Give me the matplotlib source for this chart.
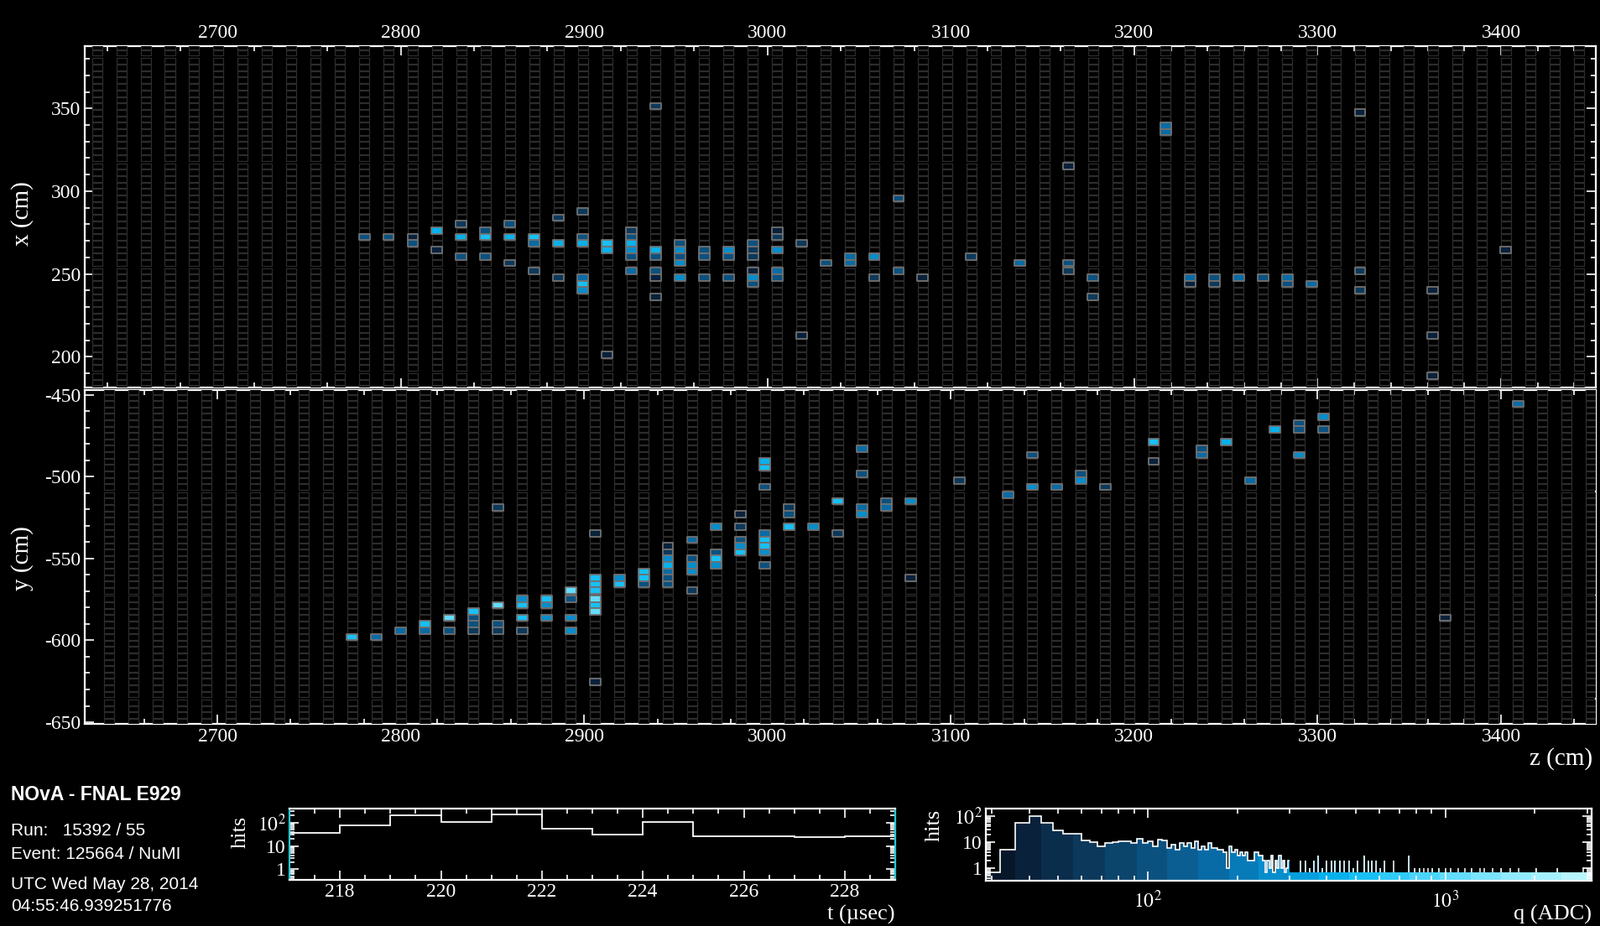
import numpy as np
import matplotlib
matplotlib.use("Agg")
import matplotlib.pyplot as plt
from matplotlib.collections import PatchCollection
from matplotlib.patches import Rectangle
from matplotlib.colors import LinearSegmentedColormap, LogNorm
import matplotlib.ticker as mticker

plt.rcParams['font.family'] = ['Liberation Serif', 'DejaVu Serif']
plt.rcParams['axes.unicode_minus'] = False
plt.rcParams['mathtext.fontset'] = 'stix'

# charge levels used for the hit colours (ADC)
D, DM, M, MB, B, C, L, V = 45, 60, 100, 160, 260, 380, 600, 1100

# ---- x view hits: plane number, x (cm), charge
x_plane = [11, 12, 13, 13, 14, 14, 15, 15, 15, 16, 16, 16, 17, 17, 17,
           18, 18, 18, 19, 19, 19, 20, 20, 20, 20, 20, 20, 21, 21, 21,
           22, 22, 22, 22, 22, 22, 23, 23, 23, 23, 23, 23,
           24, 24, 24, 24, 24, 25, 25, 25, 26, 26, 26,
           27, 27, 27, 27, 27, 27, 28, 28, 28, 28, 28, 29, 29, 30, 31, 31,
           32, 32, 33, 33, 34, 36, 38, 40, 40, 40, 41, 41, 44, 44, 45, 45,
           46, 46, 47, 48, 49, 49, 50, 52, 52, 52, 55, 55, 55, 58]
x_pos = [273.5, 272.3, 273.5, 269.6, 276.5, 264.5, 281.8, 273.5, 261.8,
         276.5, 272.3, 260.6, 281.8, 273.5, 257.8, 272.3, 268.3, 252.2,
         285.6, 269.8, 249.5, 288.0, 272.3, 268.3, 248.2, 244.3, 240.4,
         269.8, 265.9, 202.4, 276.5, 272.3, 268.3, 264.5, 260.6, 252.2,
         353.0, 265.9, 261.8, 253.4, 249.5, 237.5,
         268.3, 264.5, 260.6, 256.8, 248.2, 265.9, 261.8, 249.5,
         264.5, 260.6, 248.2,
         269.8, 265.9, 261.8, 253.4, 249.5, 245.6, 276.5, 272.3, 264.5,
         252.2, 248.2, 269.8, 214.0, 256.8, 261.8, 257.8,
         260.6, 248.2, 297.5, 253.4, 248.2, 260.6, 256.8, 315.5, 256.8,
         252.2, 249.5, 237.5, 340.3, 336.1, 249.5, 245.6,
         248.2, 244.3, 249.5, 248.2, 249.5, 245.6, 244.3, 347.8, 252.2,
         240.4, 241.4, 214.0, 189.7, 264.5]
x_q = [M, M, D, M, C, D, DM, C, M, M, L, M, M, C, DM, L, MB, DM, DM, C, DM,
       DM, M, C, MB, L, B, L, C, D, DM, M, C, B, M, MB, DM, C, M, M, D, D,
       M, B, M, B, B, M, M, M, B, M, M,
       M, DM, DM, D, B, M, D, DM, B, MB, M, DM, D, M, MB, MB,
       B, DM, M, M, D, DM, MB, D, M, DM, M, DM, MB, MB, MB, D,
       M, DM, MB, M, MB, M, MB, D, DM, DM, D, D, D, D]

# ---- y view hits: plane number, y (cm), charge
y_plane = [11, 12, 13, 14, 14, 15, 15, 16, 16, 16, 16, 17, 17, 17, 17,
           18, 18, 18, 18, 19, 19, 19, 20, 20, 20, 20,
           21, 21, 21, 21, 21, 21, 21, 21, 22, 22, 23, 23, 23,
           24, 24, 24, 24, 24, 24, 24, 25, 25, 25, 25, 25, 26, 26, 26, 26,
           27, 27, 27, 27, 27, 28, 28, 28, 28, 28, 28, 28, 28,
           29, 29, 29, 30, 31, 31, 32, 32, 32, 32, 33, 33, 34, 34,
           36, 38, 39, 39, 40, 41, 41, 42, 44, 44, 46, 46, 47, 48, 49,
           50, 50, 50, 51, 51, 56, 59]
y_pos = [-598.6, -597.2, -594.5, -589.4, -593.3, -586.5, -594.2,
         -581.4, -585.3, -589.4, -593.3, -518.7, -578.6, -590.4, -594.2,
         -573.3, -577.4, -585.1, -593.0, -574.5, -578.6, -586.7,
         -568.7, -573.3, -585.1, -593.0,
         -534.2, -562.4, -566.3, -570.3, -574.4, -578.3, -582.2, -625.9,
         -560.7, -564.6, -558.3, -562.4, -566.3,
         -541.1, -545.0, -548.7, -552.8, -556.9, -560.7, -564.6,
         -538.2, -550.1, -554.0, -558.0, -569.9,
         -528.9, -545.0, -548.7, -552.8,
         -523.0, -530.5, -538.8, -542.6, -546.5,
         -489.7, -493.4, -505.5, -533.5, -537.3, -541.2, -545.3, -553.2,
         -519.0, -523.0, -530.5, -529.3, -514.9, -534.6,
         -481.3, -497.2, -517.5, -521.6, -515.1, -518.7, -513.9, -560.9,
         -500.9, -509.3, -486.6, -506.2, -504.7, -498.4, -502.3, -504.7,
         -477.4, -489.7, -481.6, -485.5, -478.9, -500.9, -470.7,
         -465.9, -470.0, -485.4, -463.2, -470.7, -585.1, -455.5]
y_q = [L, MB, MB, L, MB, V, M, L, M, M, DM, DM, V, M, DM,
       B, L, L, DM, L, B, B, V, M, B, B,
       D, L, L, L, V, L, V, D, B, L, L, L, M,
       D, DM, B, C, MB, M, M, MB, M, B, B, DM, B, M, L, B,
       D, DM, M, B, L, C, L, M, MB, L, L, B, M,
       DM, M, L, B, L, DM, MB, M, MB, B, M, MB, B, D,
       DM, MB, M, B, MB, M, B, DM, L, D, M, MB, C, MB, C,
       M, M, B, B, M, D, MB]

# ---- time histogram (hits per microsecond)
t_edges = [217, 218, 219, 220, 221, 222, 223, 224, 225, 226, 227, 228, 229]
t_counts = [36, 76, 205, 103, 216, 57, 30, 110, 27, 27, 24, 27]

# ---- charge histogram, 4 ADC bins starting at 28 ADC
q_counts_low = [0, 5, 54, 105, 54, 29, 21, 21, 12, 10, 7, 9, 10, 11, 11, 9,
                14, 9, 11, 7, 13, 12, 6, 8, 5, 9, 7, 9, 6, 11, 5, 7, 5, 9,
                6, 6, 5, 5, 4, 1, 7, 4, 5, 3, 4, 3, 4, 2, 2, 2, 4, 4, 3, 3,
                2, 0, 2, 1, 3, 0, 2, 1, 3, 1, 2, 0, 1, 2]
q_high = [327, 338, 349, 361, 374, 386, 399, 413, 427, 441, 456, 472, 488,
          504, 534, 548, 567, 586, 606, 627, 670, 753, 791, 818, 846, 875,
          905, 951, 1000, 1041, 1105, 1162, 1222, 1306, 1350, 1443, 1543,
          1649, 1763, 2015, 2381, 2910]
q_high_n = [2, 2, 1, 2, 3, 1, 2, 2, 2, 2, 2, 2, 1, 2, 3, 2, 2, 2, 1, 2, 2, 3,
            1, 1, 1, 1, 1, 1, 1, 1, 1, 1, 1, 1, 1, 1, 1, 1, 1, 1, 1, 1]

info = ["Run:   15392 / 55", "Event: 125664 / NuMI",
        "UTC Wed May 28, 2014", "04:55:46.939251776"]

# ---- detector geometry
PITCH_Z = 13.245
Z0 = {'x': 2634.4, 'y': 2627.8}
CELL_P = 3.9
MOD_W = 63.4
CELL_W, CELL_H = 5.5, 3.4
HIT_W, HIT_H = 5.9, 3.9
ZLIM = (2627.7, 3451.7)

QMIN, QMAX = 28.6, 3100
QCMAP = LinearSegmentedColormap.from_list(
    'q', ['#07172a', '#0a2440', '#0c3354', '#0c4268', '#0b5280', '#0a6298',
          '#0874b0', '#068ac8', '#05a2e0', '#08b8f2', '#28c8fa', '#48d4fc',
          '#68defd', '#86e8fe', '#a0eeff', '#b8f6ff'], N=20)
QNORM = LogNorm(QMIN, QMAX)


def draw_view(ax, view, mod_edges, planes, pos, q):
    z0 = Z0[view]
    zc = z0 + PITCH_Z * np.arange(0, 64)
    zc = zc[(zc - CELL_W / 2 > ZLIM[0]) & (zc + CELL_W / 2 < ZLIM[1] + 4)]
    centers = (np.asarray(mod_edges)[:, None] + (MOD_W - 16 * CELL_P) / 2
               + CELL_P * (np.arange(16) + 0.5)).ravel()
    cells = [Rectangle((z - CELL_W / 2, c - CELL_H / 2), CELL_W, CELL_H)
             for z in zc for c in centers]
    ax.add_collection(PatchCollection(cells, facecolor='black',
                                      edgecolor='#2c2c2c', lw=0.9, zorder=3))
    hz = z0 + PITCH_Z * np.asarray(planes)
    hc = centers[np.abs(centers[None, :] - np.asarray(pos)[:, None]).argmin(1)]
    hits = [Rectangle((z - HIT_W / 2, c - HIT_H / 2), HIT_W, HIT_H)
            for z, c in zip(hz, hc)]
    pc = PatchCollection(hits, cmap=QCMAP, norm=QNORM, edgecolor='#707070',
                         lw=1.3, zorder=4)
    pc.set_array(np.asarray(q, dtype=float))
    ax.add_collection(pc)


def style(ax):
    ax.set_facecolor('black')
    for s in ax.spines.values():
        s.set_color('white')
        s.set_linewidth(1.6)
        s.set_zorder(2)
    ax.tick_params(which='both', direction='in', colors='white', top=True,
                   right=True, labelsize=17, width=1.2)
    ax.tick_params(which='major', length=8)
    ax.tick_params(which='minor', length=4)


W, H = 1907, 1104
fig = plt.figure(figsize=(W / 100, H / 100), dpi=100, facecolor='black')


def box(x0, y0, x1, y1):
    return [x0 / W, 1 - y1 / H, (x1 - x0) / W, (y1 - y0) / H]


# x view
ax1 = fig.add_axes(box(101, 55, 1902, 462))
style(ax1)
draw_view(ax1, 'x', [127.5, 190.9, 254.3, 317.7, 381.1], x_plane, x_pos, x_q)
ax1.set_xlim(*ZLIM)
ax1.set_ylim(181.5, 387.6)
ax1.xaxis.set_major_locator(mticker.MultipleLocator(100))
ax1.xaxis.set_minor_locator(mticker.MultipleLocator(20))
ax1.yaxis.set_major_locator(mticker.MultipleLocator(50))
ax1.yaxis.set_minor_locator(mticker.MultipleLocator(10))
ax1.tick_params(labeltop=True, labelbottom=False)

# y view
ax2 = fig.add_axes(box(101, 465, 1902, 863))
style(ax2)
draw_view(ax2, 'y', [-698.9, -635.5, -572.1, -508.7, -445.3],
          y_plane, y_pos, y_q)
ax2.set_xlim(*ZLIM)
ax2.set_ylim(-651, -447.1)
ax2.xaxis.set_major_locator(mticker.MultipleLocator(100))
ax2.xaxis.set_minor_locator(mticker.MultipleLocator(20))
ax2.yaxis.set_major_locator(mticker.MultipleLocator(50))
ax2.yaxis.set_minor_locator(mticker.MultipleLocator(10))

fig.text(27 / W, 1 - 255 / H, 'x (cm)', color='white', fontsize=21,
         rotation=90, ha='center', va='center')
fig.text(27 / W, 1 - 666 / H, 'y (cm)', color='white', fontsize=21,
         rotation=90, ha='center', va='center')
fig.text(1898 / W, 1 - 905 / H, 'z (cm)', color='white', fontsize=21,
         ha='right', va='center')

# info block
fig.text(13 / W, 1 - 948 / H, 'NOvA - FNAL E929', color='white', fontsize=16.5,
         fontweight='bold', family='Liberation Sans', va='center')
for s, yy in zip(info, [991, 1018, 1055, 1080]):
    fig.text(13 / W, 1 - yy / H, s, color='white', fontsize=15,
             family='Liberation Sans', va='center')

log_fmt = mticker.FixedFormatter(['1', '10', '$10^2$'])

# time histogram
ax3 = fig.add_axes(box(345, 964, 1067, 1049))
style(ax3)
ax3.spines['left'].set_color('#20c8d8')
ax3.spines['right'].set_color('#20c8d8')
ax3.set_yscale('log')
ax3.stairs(t_counts, t_edges, baseline=None, color='white', lw=1.3)
ax3.set_xlim(217, 229)
ax3.set_ylim(0.35, 400)
ax3.xaxis.set_major_locator(mticker.MultipleLocator(2))
ax3.xaxis.set_minor_locator(mticker.MultipleLocator(0.5))
ax3.yaxis.set_major_locator(mticker.FixedLocator([1, 10, 100]))
ax3.yaxis.set_major_formatter(log_fmt)
ax3.yaxis.set_minor_locator(mticker.LogLocator(subs=np.arange(2, 10)))
ax3.yaxis.set_minor_formatter(mticker.NullFormatter())
ax3.tick_params(labelsize=17, pad=3)
fig.text(287 / W, 1 - 992 / H, 'hits', color='white', fontsize=19,
         rotation=90, ha='center', va='center')
fig.text(1067 / W, 1 - 1090 / H, 't (\u00b5sec)', color='white',
         fontsize=19, ha='right', va='center')

# charge histogram
q_edges_low = 28 + 4 * np.arange(len(q_counts_low) + 1)
nb = int((QMAX - 28) // 4)
q_edges = 28 + 4 * np.arange(nb + 1)
q_counts = np.zeros(nb)
q_counts[:len(q_counts_low)] = q_counts_low
for qq, n in zip(q_high, q_high_n):
    q_counts[int((qq - 28) // 4)] += n
q_cent = q_edges[:-1] + 2
q_show = np.maximum(q_counts, 0.7)

ax4 = fig.add_axes(box(1175, 964, 1897, 1050))
style(ax4)
ax4.set_xscale('log')
ax4.set_yscale('log')
ax4.bar(q_edges[:-1], q_show - 0.3, bottom=0.3, width=4, align='edge',
        color=QCMAP(QNORM(q_cent)), lw=0, zorder=1)
nlow = len(q_counts_low)
ax4.stairs(q_show[:nlow], q_edges_low, baseline=None, color='white', lw=1.2,
           zorder=2)
hi = np.nonzero(q_counts[nlow:])[0] + nlow
ax4.vlines(q_cent[hi], 0.7, q_counts[hi], color='white', lw=1.1, zorder=2)
ax4.set_xlim(QMIN, QMAX)
ax4.set_ylim(0.32, 200)
ax4.xaxis.set_major_locator(mticker.FixedLocator([100, 1000]))
ax4.xaxis.set_major_formatter(mticker.FixedFormatter(['$10^2$', '$10^3$']))
ax4.xaxis.set_minor_locator(mticker.LogLocator(subs=np.arange(2, 10)))
ax4.xaxis.set_minor_formatter(mticker.NullFormatter())
ax4.yaxis.set_major_locator(mticker.FixedLocator([1, 10, 100]))
ax4.yaxis.set_major_formatter(log_fmt)
ax4.yaxis.set_minor_locator(mticker.LogLocator(subs=np.arange(2, 10)))
ax4.yaxis.set_minor_formatter(mticker.NullFormatter())
ax4.tick_params(labelsize=17, pad=3)
ax4.tick_params(axis='x', pad=8)
fig.text(1114 / W, 1 - 984 / H, 'hits', color='white', fontsize=19,
         rotation=90, ha='center', va='center')
fig.text(1897 / W, 1 - 1090 / H, 'q (ADC)', color='white', fontsize=19,
         ha='right', va='center')

fig.savefig('out.png', dpi=100, facecolor='black')
